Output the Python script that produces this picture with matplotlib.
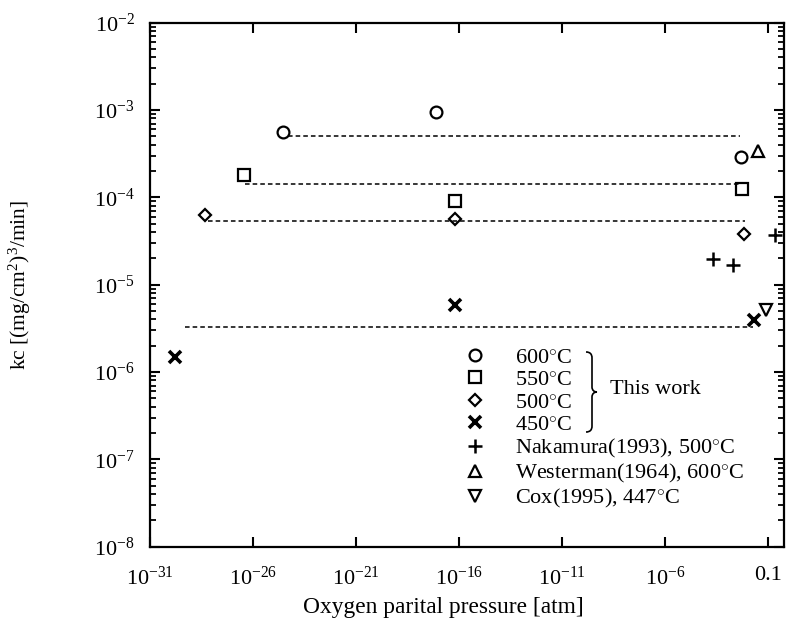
import numpy as np
import matplotlib
matplotlib.use("Agg")
import matplotlib.pyplot as plt
from matplotlib.path import Path
from matplotlib.patches import PathPatch
from matplotlib.ticker import LogLocator, NullLocator

# oxygen partial pressure [atm] and kc [(mg/cm2)^3/min]
p600 = [2.8e-25, 7.6e-18, 4.8e-3]
k600 = [5.65e-4, 9.6e-4, 2.9e-4]
p550 = [3.6e-27, 6.3e-17, 5.1e-3]
k550 = [1.78e-4, 9.1e-5, 1.24e-4]
p500 = [4.7e-29, 6.3e-17, 6.6e-3]
k500 = [6.2e-5, 5.65e-5, 3.8e-5]
p450 = [1.6e-30, 6.3e-17, 2.0e-2]
k450 = [1.49e-6, 5.9e-6, 3.9e-6]

p_naka = [2.0e-4, 1.96e-3, 0.21]
k_naka = [1.96e-5, 1.69e-5, 3.7e-5]
p_west = [0.0316]
k_west = [3.37e-4]
p_cox = [0.078]
k_cox = [5.1e-6]

# dashed average lines: (log10 p start, log10 p end, kc)
fit_600 = (-24.3, -2.37, 4.98e-4)
fit_550 = (-26.4, -2.37, 1.41e-4)
fit_500 = (-28.2, -2.13, 5.4e-5)
fit_450 = (-29.3, -1.74, 3.27e-6)

xtick_exp = [-31, -26, -21, -16, -11, -6, -1]
xtick_labels = ["$10^{-31}$", "$10^{-26}$", "$10^{-21}$", "$10^{-16}$",
                "$10^{-11}$", "$10^{-6}$", "0.1"]
ytick_exp = [-8, -7, -6, -5, -4, -3, -2]

plt.rcParams["font.family"] = ["Liberation Serif", "DejaVu Serif"]
plt.rcParams["mathtext.fontset"] = "custom"
plt.rcParams["mathtext.rm"] = "Liberation Serif"
plt.rcParams["mathtext.it"] = "Liberation Serif:italic"

W, H = 787, 637
fig = plt.figure(figsize=(W / 100, H / 100), dpi=100)
ax = fig.add_axes([150 / W, (H - 546.7) / H, (784 - 150) / W, (546.7 - 22.7) / H])

for fit in (fit_600, fit_550, fit_500, fit_450):
    ax.plot([10 ** fit[0], 10 ** fit[1]], [fit[2], fit[2]], color="black",
            lw=1.1, ls=(0, (3, 2)))

ax.plot(p600, k600, "o", ms=8.5, mfc="none", mec="black", mew=1.6, label="600$^{\\circ}$C")
ax.plot(p550, k550, "s", ms=8.5, mfc="none", mec="black", mew=1.6, label="550$^{\\circ}$C")
ax.plot(p500, k500, "D", ms=6, mfc="none", mec="black", mew=1.6, label="500$^{\\circ}$C")
ax.plot(p450, k450, "x", ms=8, mec="black", mew=2.6, label="450$^{\\circ}$C")
ax.plot(p_naka, k_naka, "+", ms=10, mec="black", mew=1.8, label="Nakamura(1993), 500$^{\\circ}$C")
ax.plot(p_west, k_west, "^", ms=8.5, mfc="none", mec="black", mew=1.6, label="Westerman(1964), 600$^{\\circ}$C")
ax.plot(p_cox, k_cox, "v", ms=8.5, mfc="none", mec="black", mew=1.6, label="Cox(1995), 447$^{\\circ}$C")

ax.set_xscale("log")
ax.set_yscale("log")
ax.set_xlim(1e-31, 10 ** -0.24)
ax.set_ylim(1e-8, 1e-2)

ax.set_xticks([10.0 ** e for e in xtick_exp], xtick_labels)
ax.xaxis.set_minor_locator(NullLocator())
ax.set_yticks([10.0 ** e for e in ytick_exp], ["$10^{%d}$" % e for e in ytick_exp])
ax.yaxis.set_minor_locator(LogLocator(base=10, subs=np.arange(2, 10), numticks=20))

for s in ax.spines.values():
    s.set_linewidth(1.6)
ax.tick_params(which="both", direction="in", top=True, right=True, labelsize=16)
ax.tick_params(which="major", length=7, width=1.5)
ax.tick_params(which="minor", length=4.5, width=1.3)
ax.tick_params(axis="x", pad=14)
ax.tick_params(axis="y", pad=11)

ax.set_xlabel("Oxygen parital pressure [atm]", fontsize=16.8, va="top")
ax.xaxis.set_label_coords((443.5 - 150) / 634, -0.096)
ax.set_ylabel("kc [(mg/cm$^{2}$)$^{3}$/min]", fontsize=15.5)
ax.yaxis.set_label_coords(-0.185, 0.5)

ax.legend(loc="upper left", bbox_to_anchor=((464 - 150) / 634, (546.7 - 347) / 524),
          frameon=False, fontsize=16, handlelength=1.0, handletextpad=1.3,
          labelspacing=0.09, borderpad=0, borderaxespad=0)

# brace grouping "This work"
def fp(x, y):
    return (x / W, (H - y) / H)

verts = [fp(586, 352), fp(590, 352), fp(592, 354), fp(592, 358),
         fp(592, 387),
         fp(592, 390), fp(594, 392), fp(597, 392),
         fp(594, 392), fp(592, 394), fp(592, 397),
         fp(592, 426),
         fp(592, 430), fp(590, 432), fp(586, 432)]
codes = [Path.MOVETO, Path.CURVE4, Path.CURVE4, Path.CURVE4,
         Path.LINETO,
         Path.CURVE4, Path.CURVE4, Path.CURVE4,
         Path.CURVE4, Path.CURVE4, Path.CURVE4,
         Path.LINETO,
         Path.CURVE4, Path.CURVE4, Path.CURVE4]
fig.add_artist(PathPatch(Path(verts, codes), transform=fig.transFigure,
                         fill=False, lw=1.2, color="black"))
fig.text(610 / W, (H - 390) / H, "This work", fontsize=16, va="center", ha="left")

fig.savefig("out.png", dpi=100)
